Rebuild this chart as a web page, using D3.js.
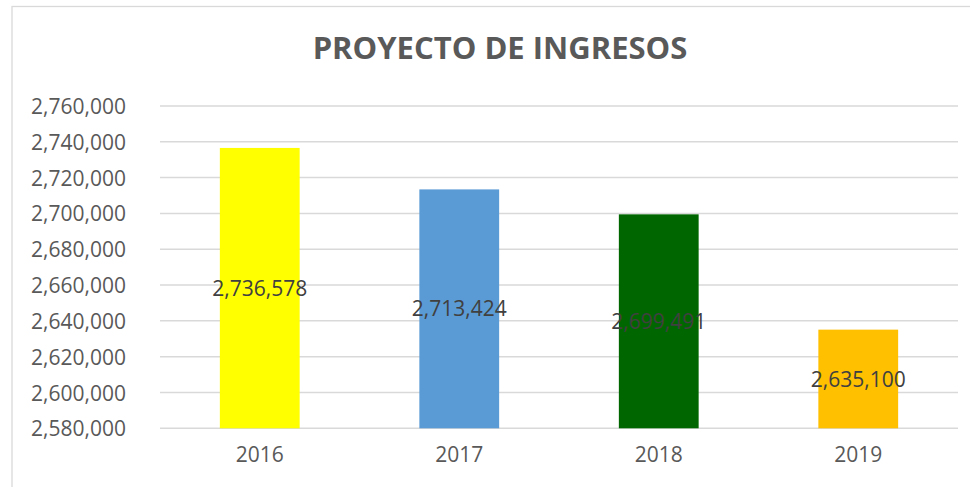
<!DOCTYPE html>
<html><head><meta charset="utf-8">
<script src="https://cdn.jsdelivr.net/npm/d3@7"></script>
<style>body{margin:0;background:#fff}svg{display:block}</style>
</head><body>
<script>
const years = ["2016","2017","2018","2019"];
const values = [2736578, 2713424, 2699491, 2635100];
const colors = ["#FFFF00","#5B9BD5","#006600","#FFC000"];
const yTicks = [2580000,2600000,2620000,2640000,2660000,2680000,2700000,2720000,2740000,2760000];
const title = "PROYECTO DE INGRESOS";

const W = 970, H = 487;
const svg = d3.select("body").append("svg").attr("width", W).attr("height", H);
const font = "'Open Sans', sans-serif";

svg.append("rect").attr("x",12).attr("y",6.5).attr("width",1000).attr("height",600)
  .attr("fill","#fff").attr("stroke","#d9d9d9").attr("stroke-width",1.3);

const x = d3.scaleBand().domain(years).range([160, 958]).paddingInner(0.6).paddingOuter(0.3);
const y = d3.scaleLinear().domain([2580000, 2760000]).range([428.3, 106]);

const fmt = d3.format(",");

// gridlines
svg.append("g").selectAll("line").data(yTicks).join("line")
  .attr("x1",160).attr("x2",958)
  .attr("y1",d=>y(d)).attr("y2",d=>y(d))
  .attr("stroke","#d9d9d9").attr("stroke-width",1.5);

// y labels
const yAxis = d3.axisLeft(y).tickValues(yTicks).tickFormat(fmt).tickSize(0).tickPadding(0);
const ya = svg.append("g").attr("transform","translate(126,0)").call(yAxis);
ya.select(".domain").remove();
ya.selectAll("text").attr("font-family",font).attr("font-size",21).attr("fill","#595959").attr("dy","0.36em");

// bars
svg.append("g").selectAll("rect").data(values).join("rect")
  .attr("x",(d,i)=>x(years[i])).attr("width",x.bandwidth())
  .attr("y",d=>y(d)).attr("height",d=>y(2580000)-y(d))
  .attr("fill",(d,i)=>colors[i]);

// x labels
const xAxis = d3.axisBottom(x).tickSize(0).tickPadding(0);
const xa = svg.append("g").attr("transform","translate(0,429)").call(xAxis);
xa.select(".domain").remove();
xa.selectAll("text").attr("font-family",font).attr("font-size",21).attr("fill","#595959").attr("dy","1.55em");

// data labels
svg.append("g").selectAll("text").data(values).join("text")
  .attr("x",(d,i)=>x(years[i])+x.bandwidth()/2)
  .attr("y",d=>(y(d)+y(2580000))/2)
  .attr("dy","0.36em")
  .attr("text-anchor","middle")
  .attr("font-family",font).attr("font-size",21).attr("fill","#404040")
  .text(d=>fmt(d));

// title
svg.append("text").attr("x",500).attr("y",59).attr("text-anchor","middle")
  .attr("font-family",font).attr("font-weight","bold").attr("font-size",31).attr("fill","#595959")
  .text(title);
</script>
</body></html>
